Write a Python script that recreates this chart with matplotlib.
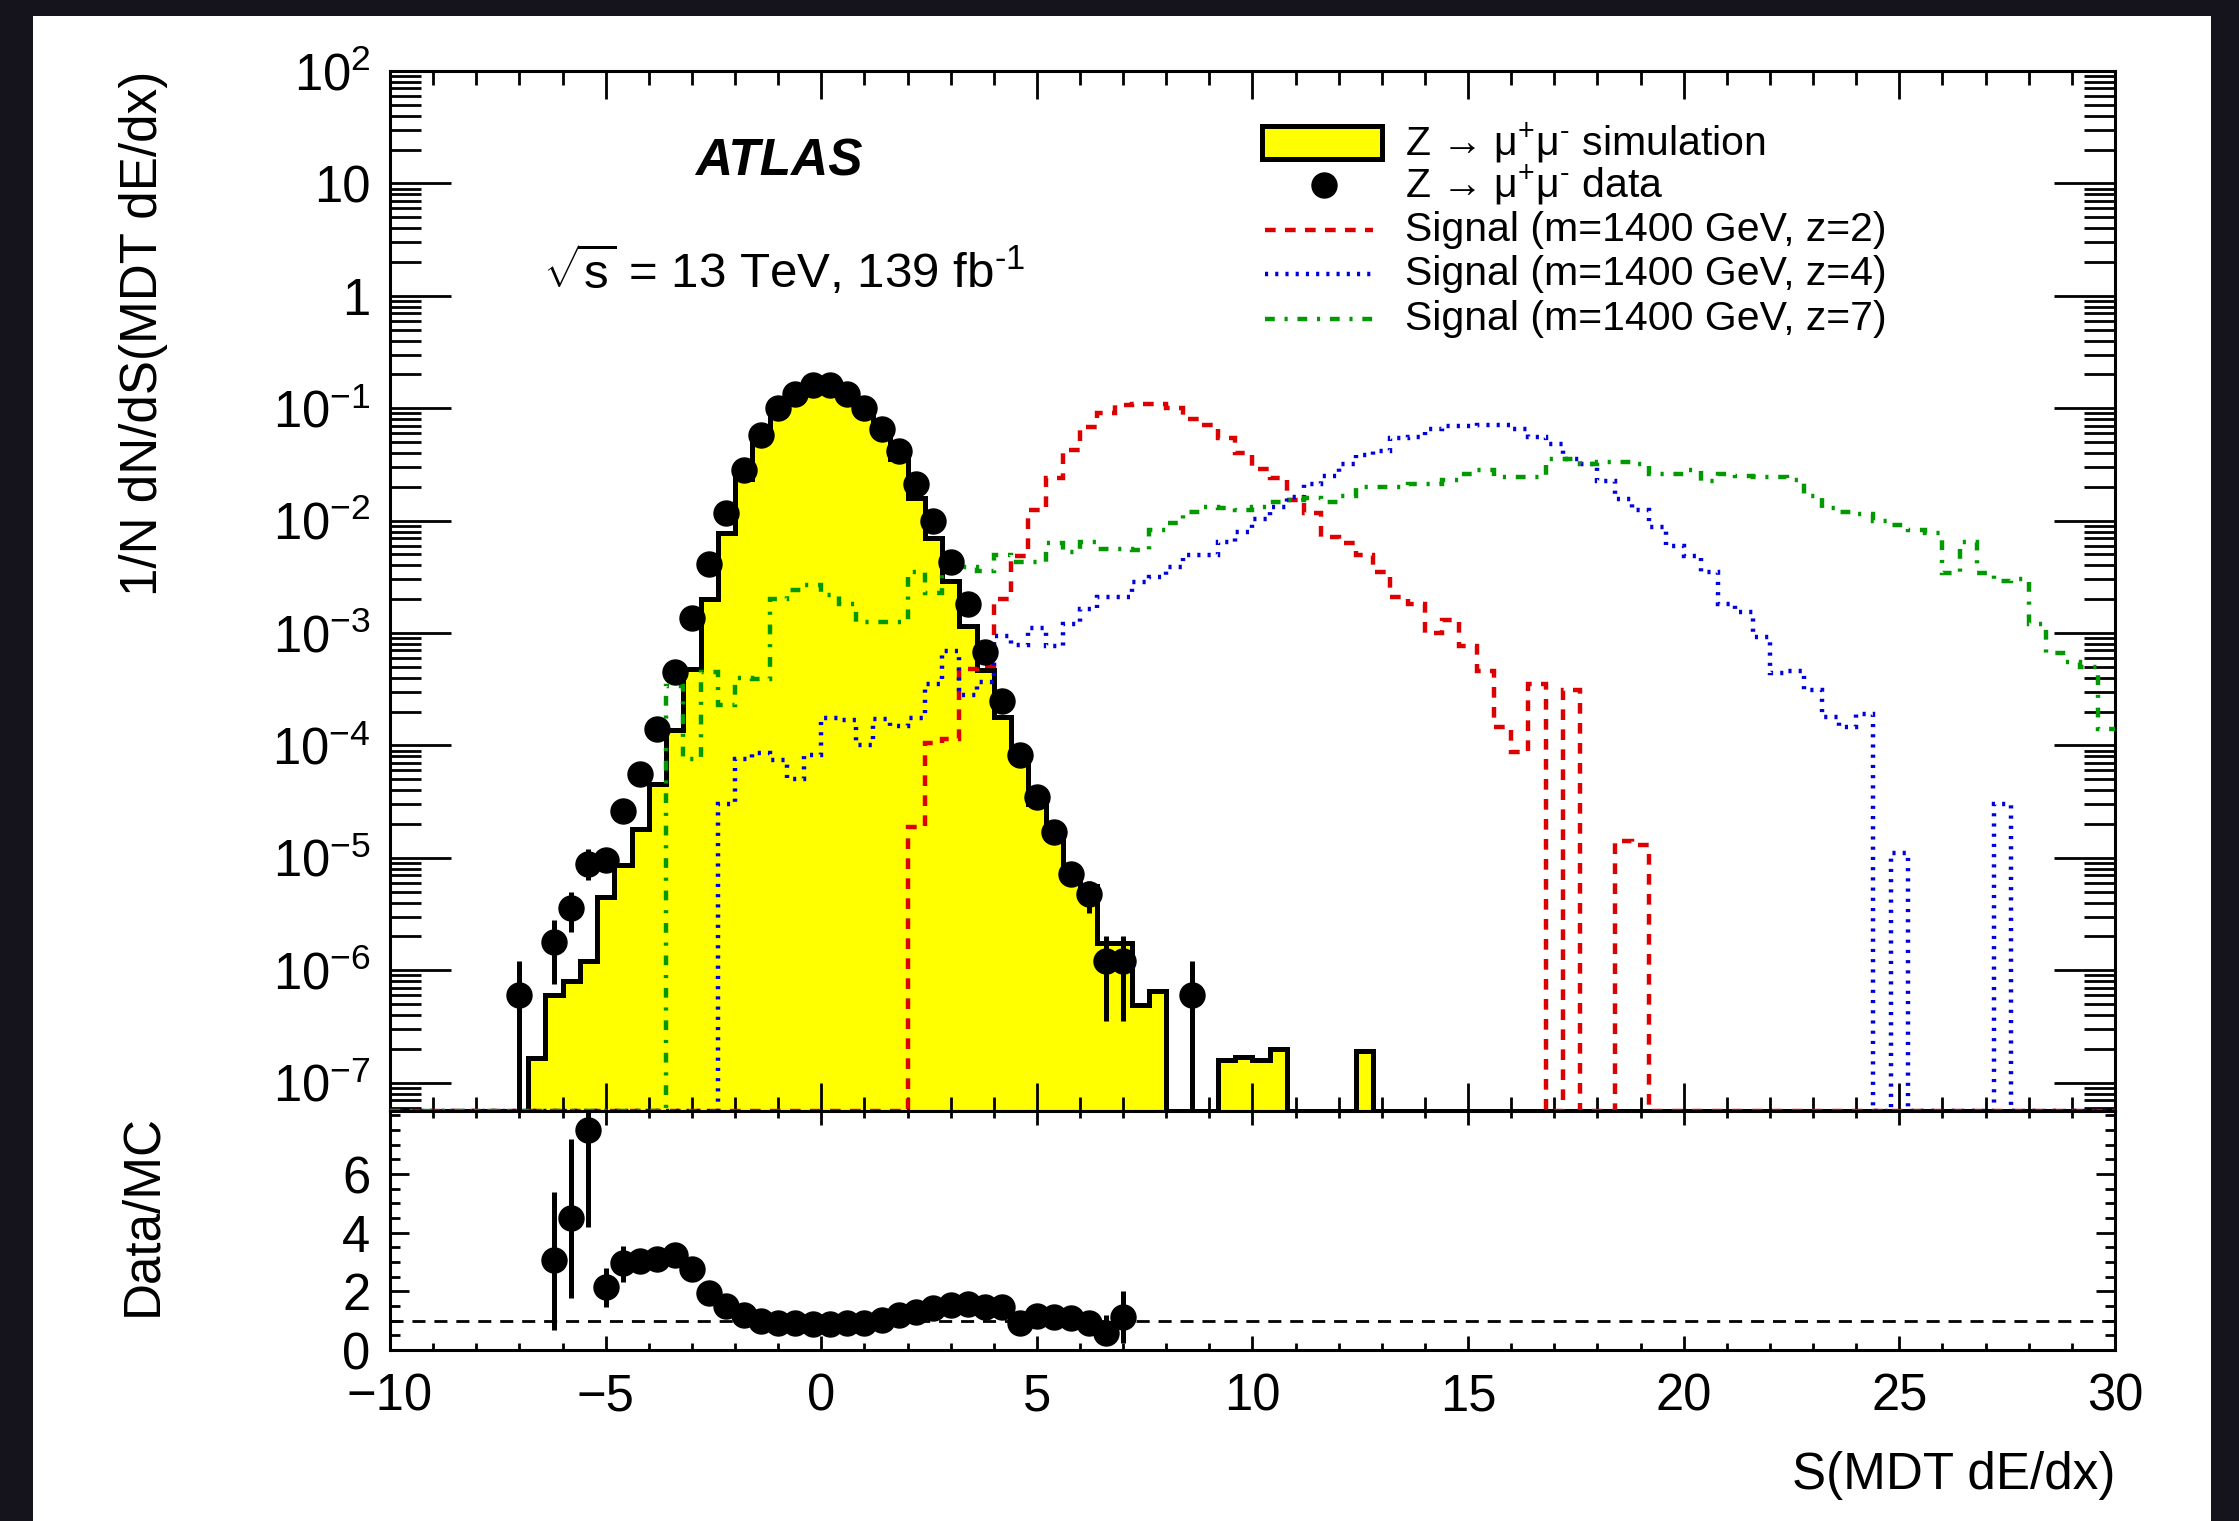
import numpy as np
import matplotlib
matplotlib.use("Agg")
from matplotlib import pyplot as plt
from matplotlib.patches import Rectangle
from matplotlib.ticker import MultipleLocator, LogLocator, FixedLocator, FixedFormatter, NullFormatter

plt.rcParams['font.family'] = ['Liberation Sans', 'DejaVu Sans']
plt.rcParams['mathtext.fontset'] = 'custom'
plt.rcParams['mathtext.rm'] = 'Liberation Sans'
plt.rcParams['mathtext.it'] = 'Liberation Sans:italic'
plt.rcParams['mathtext.bf'] = 'Liberation Sans:bold'

# 100 bins of width 0.4 from -10 to 30, every row below holds 10 bins (4 units of S)
edges = np.linspace(-10, 30, 101)
centres = 0.5 * (edges[:-1] + edges[1:])

mc_sim = [
    0, 0, 0, 0, 0, 0, 0, 0, 1.65e-7, 6.0e-7,
    8.1e-7, 1.2e-6, 4.5e-6, 8.7e-6, 1.8e-5, 4.5e-5, 1.38e-4, 4.8e-4, 2.0e-3, 7.8e-3,
    2.35e-2, 5.7e-2, 0.105, 0.145, 0.175, 0.175, 0.145, 0.105, 0.064, 0.035,
    1.6e-2, 7.0e-3, 2.9e-3, 1.15e-3, 4.7e-4, 1.8e-4, 8.9e-5, 3.0e-5, 1.5e-5, 6.7e-6,
    5.6e-6, 1.75e-6, 1.75e-6, 4.9e-7, 6.6e-7, 0, 0, 0, 1.6e-7, 1.7e-7,
    1.6e-7, 2.0e-7, 0, 0, 0, 0, 1.9e-7, 0, 0, 0,
    0, 0, 0, 0, 0, 0, 0, 0, 0, 0,
    0, 0, 0, 0, 0, 0, 0, 0, 0, 0,
    0, 0, 0, 0, 0, 0, 0, 0, 0, 0,
    0, 0, 0, 0, 0, 0, 0, 0, 0, 0,
]

data = [
    0, 0, 0, 0, 0, 0, 0, 6.0e-7, 0, 1.8e-6,
    3.6e-6, 8.9e-6, 9.5e-6, 2.6e-5, 5.6e-5, 1.4e-4, 4.5e-4, 1.35e-3, 4.1e-3, 1.17e-2,
    2.8e-2, 5.75e-2, 0.1, 0.135, 0.162, 0.162, 0.135, 0.1, 0.066, 0.042,
    2.1e-2, 9.9e-3, 4.3e-3, 1.8e-3, 6.8e-4, 2.5e-4, 8.3e-5, 3.5e-5, 1.7e-5, 7.2e-6,
    4.8e-6, 1.2e-6, 1.2e-6, 0, 0, 0, 6.0e-7, 0, 0, 0,
    0, 0, 0, 0, 0, 0, 0, 0, 0, 0,
    0, 0, 0, 0, 0, 0, 0, 0, 0, 0,
    0, 0, 0, 0, 0, 0, 0, 0, 0, 0,
    0, 0, 0, 0, 0, 0, 0, 0, 0, 0,
    0, 0, 0, 0, 0, 0, 0, 0, 0, 0,
]

sig_z2 = [
    0, 0, 0, 0, 0, 0, 0, 0, 0, 0,
    0, 0, 0, 0, 0, 0, 0, 0, 0, 0,
    0, 0, 0, 0, 0, 0, 0, 0, 0, 0,
    1.9e-5, 1.05e-4, 1.15e-4, 4.8e-4, 5.1e-4, 2.0e-3, 4.8e-3, 1.24e-2, 2.4e-2, 4.25e-2,
    6.85e-2, 9.0e-2, 0.107, 0.110, 0.110, 0.100, 0.081, 0.071, 0.054, 0.040,
    0.029, 0.024, 0.0152, 0.0116, 7.2e-3, 6.3e-3, 4.9e-3, 3.5e-3, 2.1e-3, 1.8e-3,
    1.0e-3, 1.3e-3, 7.7e-4, 4.6e-4, 1.47e-4, 8.8e-5, 3.5e-4, 0, 3.1e-4, 0,
    0, 1.4e-5, 1.3e-5, 0, 0, 0, 0, 0, 0, 0,
    0, 0, 0, 0, 0, 0, 0, 0, 0, 0,
    0, 0, 0, 0, 0, 0, 0, 0, 0, 0,
]

sig_z4 = [
    0, 0, 0, 0, 0, 0, 0, 0, 0, 0,
    0, 0, 0, 0, 0, 0, 0, 0, 0, 3.0e-5,
    7.5e-5, 8.6e-5, 7.4e-5, 5.0e-5, 8.3e-5, 1.74e-4, 1.7e-4, 1.0e-4, 1.72e-4, 1.5e-4,
    1.75e-4, 3.5e-4, 6.9e-4, 2.8e-4, 3.7e-4, 9.5e-4, 7.9e-4, 1.1e-3, 7.6e-4, 1.2e-3,
    1.65e-3, 2.1e-3, 2.1e-3, 2.85e-3, 3.15e-3, 3.9e-3, 4.9e-3, 4.9e-3, 6.5e-3, 8.0e-3,
    1.03e-2, 1.33e-2, 1.62e-2, 2.1e-2, 2.5e-2, 3.2e-2, 3.8e-2, 4.2e-2, 5.4e-2, 5.6e-2,
    6.6e-2, 7.0e-2, 7.0e-2, 7.1e-2, 7.1e-2, 6.5e-2, 5.6e-2, 4.8e-2, 3.5e-2, 3.2e-2,
    2.25e-2, 1.55e-2, 1.25e-2, 8.8e-3, 5.9e-3, 4.8e-3, 3.5e-3, 1.8e-3, 1.55e-3, 9.2e-4,
    4.4e-4, 4.6e-4, 3.1e-4, 1.8e-4, 1.47e-4, 1.9e-4, 0, 1.1e-5, 0, 0,
    0, 0, 0, 3.0e-5, 0, 0, 0, 0, 0, 0,
]

sig_z7 = [
    0, 0, 0, 0, 0, 0, 0, 0, 0, 0,
    0, 0, 0, 0, 0, 0, 3.4e-4, 7.5e-5, 4.5e-4, 2.3e-4,
    4.0e-4, 3.9e-4, 2.0e-3, 2.4e-3, 2.7e-3, 2.2e-3, 1.8e-3, 1.26e-3, 1.26e-3, 1.26e-3,
    3.5e-3, 2.25e-3, 3.6e-3, 3.9e-3, 3.6e-3, 4.9e-3, 4.3e-3, 4.3e-3, 6.3e-3, 5.3e-3,
    6.5e-3, 5.6e-3, 5.6e-3, 5.5e-3, 8.3e-3, 9.6e-3, 1.2e-2, 1.33e-2, 1.3e-2, 1.25e-2,
    1.33e-2, 1.47e-2, 1.52e-2, 1.58e-2, 1.47e-2, 1.66e-2, 2.0e-2, 2.0e-2, 2.0e-2, 2.1e-2,
    2.1e-2, 2.3e-2, 2.6e-2, 2.8e-2, 2.45e-2, 2.45e-2, 2.45e-2, 3.5e-2, 3.5e-2, 3.2e-2,
    3.3e-2, 3.3e-2, 3.2e-2, 2.6e-2, 2.6e-2, 2.8e-2, 2.25e-2, 2.6e-2, 2.5e-2, 2.45e-2,
    2.45e-2, 2.3e-2, 1.65e-2, 1.3e-2, 1.2e-2, 1.15e-2, 1.0e-2, 9.2e-3, 8.2e-3, 7.8e-3,
    3.4e-3, 6.5e-3, 3.4e-3, 2.9e-3, 3.0e-3, 1.2e-3, 6.6e-4, 5.5e-4, 5.0e-4, 1.4e-4,
]

ratio = [
    0, 0, 0, 0, 0, 0, 0, 0, 0, 3.07,
    4.49, 7.5, 2.14, 2.96, 3.05, 3.09, 3.24, 2.75, 1.96, 1.50,
    1.19, 1.00, 0.93, 0.91, 0.89, 0.89, 0.91, 0.93, 1.02, 1.19,
    1.31, 1.42, 1.54, 1.57, 1.48, 1.48, 0.93, 1.16, 1.14, 1.08,
    0.91, 0.57, 1.14, 0, 0, 0, 0, 0, 0, 0,
    0, 0, 0, 0, 0, 0, 0, 0, 0, 0,
    0, 0, 0, 0, 0, 0, 0, 0, 0, 0,
    0, 0, 0, 0, 0, 0, 0, 0, 0, 0,
    0, 0, 0, 0, 0, 0, 0, 0, 0, 0,
    0, 0, 0, 0, 0, 0, 0, 0, 0, 0,
]

# visible error bars (bin centre, lower end, upper end)
err_x = [-7.0, -6.2, -5.8, -5.4, 6.2, 6.6, 7.0, 8.6]
err_lo = [0, 7.6e-7, 2.2e-6, 6.3e-6, 3.2e-6, 3.5e-7, 3.5e-7, 0]
err_hi = [1.2e-6, 2.8e-6, 5.0e-6, 1.2e-5, 6.2e-6, 2.0e-6, 2.0e-6, 1.2e-6]

rerr_x = [-6.2, -5.8, -5.4, -5.0, -4.6, 6.6, 7.0]
rerr_lo = [0.68, 1.76, 4.2, 1.48, 2.33, 0.2, 0.23]
rerr_hi = [5.4, 7.2, 9.0, 2.8, 3.53, 1.2, 2.0]

legend_labels = [r"Z → μ$^{+}$μ$^{\text{-}}$ simulation",
                 r"Z → μ$^{+}$μ$^{\text{-}}$ data",
                 "Signal (m=1400 GeV, z=2)", "Signal (m=1400 GeV, z=4)",
                 "Signal (m=1400 GeV, z=7)"]

ymin, ymax = 5.6e-8, 100.0
red, blue, green = '#dd0000', '#0000dd', '#009900'
sig_styles = [(sig_z2, red, (0, (2.4, 2.1))),
              (sig_z4, blue, (0, (0.7, 1.6))),
              (sig_z7, green, (0, (2.2, 2.2, 0.7, 2.2)))]


def on_floor(v):
    # empty bins sit on the lower edge of the log axis, like ROOT draws them
    v = np.asarray(v, float)
    return np.where(v > 0, v, ymin)


fig = plt.figure(figsize=(22.39, 15.21), dpi=100)
fig.patch.set_facecolor('#15131c')
fig.add_artist(Rectangle((0.0147, 0.0), 0.9728, 0.9895, transform=fig.transFigure,
                         facecolor='white', edgecolor='none', zorder=-10))

ax = fig.add_axes([0.1742, 0.2696, 0.7704, 0.6837])
rax = fig.add_axes([0.1742, 0.1124, 0.7704, 0.1572], sharex=ax)

# main panel
ax.stairs(on_floor(mc_sim), edges, baseline=ymin, fill=True, facecolor='#ffff00',
          edgecolor='none', zorder=1)
ax.stairs(on_floor(mc_sim), edges, baseline=ymin, color='k', lw=3.6, zorder=2)
for vals, col, ls in sig_styles:
    ax.stairs(on_floor(vals), edges, baseline=None, color=col, lw=3.2, ls=ls, zorder=3)

d = np.asarray(data)
ax.vlines(err_x, np.maximum(err_lo, ymin), err_hi, color='k', lw=3.6, zorder=4)
ax.plot(centres[d > 0], d[d > 0], 'o', color='k', ms=18, zorder=5)

ax.set_yscale('log')
ax.set_ylim(ymin, ymax)
ax.set_xlim(-10, 30)

decades = [10.0 ** k for k in range(-7, 3)]
dec_labels = ['$10^{-7}$', '$10^{-6}$', '$10^{-5}$', '$10^{-4}$', '$10^{-3}$',
              '$10^{-2}$', '$10^{-1}$', '1', '10', '$10^{2}$']
ax.yaxis.set_major_locator(FixedLocator(decades))
ax.yaxis.set_major_formatter(FixedFormatter(dec_labels))
ax.yaxis.set_minor_locator(LogLocator(base=10, subs=np.arange(2, 10), numticks=30))
ax.yaxis.set_minor_formatter(NullFormatter())
ax.xaxis.set_major_locator(MultipleLocator(5))
ax.xaxis.set_minor_locator(MultipleLocator(1))

ax.tick_params(which='both', direction='in', top=True, right=True, width=2,
               labelbottom=False, labelsize=36.5)
ax.tick_params(axis='x', which='major', length=20)
ax.tick_params(axis='x', which='minor', length=10)
ax.tick_params(axis='y', which='major', length=44, pad=14)
ax.tick_params(axis='y', which='minor', length=22)
for s in ax.spines.values():
    s.set_linewidth(2.2)

ax.text(0.1768, 0.913, 'ATLAS', transform=ax.transAxes, fontsize=37,
        fontweight='bold', fontstyle='italic', va='center', ha='left')
ax.text(0.0887, 0.808, r'$\sqrt{\mathrm{s}}$ = 13 TeV, 139 fb$^{\text{-1}}$',
        transform=ax.transAxes, fontsize=35.5, va='center', ha='left')

# legend, drawn by hand to follow the ROOT layout
rows = [0.931, 0.890, 0.847, 0.805, 0.762]
ax.add_patch(Rectangle((0.5055, rows[0] - 0.016), 0.0695, 0.032, transform=ax.transAxes,
                       facecolor='#ffff00', edgecolor='k', lw=3.6, zorder=6))
ax.plot([0.5414], [rows[1]], 'o', color='k', ms=18, transform=ax.transAxes, zorder=6)
for (vals, col, ls), y in zip(sig_styles, rows[2:]):
    ax.plot([0.507, 0.570], [y, y], color=col, lw=3.2, ls=ls, transform=ax.transAxes,
            zorder=6)
for lab, y in zip(legend_labels, rows):
    ax.text(0.5884, y, lab, transform=ax.transAxes, fontsize=29.5, va='center', ha='left')

# ratio panel
r = np.asarray(ratio)
rax.axhline(1.0, color='k', lw=2.0, ls=(0, (4.7, 3.2)), zorder=1)
rax.vlines(rerr_x, rerr_lo, rerr_hi, color='k', lw=3.6, zorder=2)
rax.plot(centres[r > 0], r[r > 0], 'o', color='k', ms=18, zorder=3)
rax.set_ylim(0, 8.15)
rax.yaxis.set_major_locator(FixedLocator([0, 2, 4, 6]))
rax.yaxis.set_minor_locator(MultipleLocator(0.5))
rax.tick_params(which='both', direction='in', top=True, right=True, width=2,
                labelsize=36.5)
rax.tick_params(axis='x', which='major', length=10, pad=16)
rax.tick_params(axis='x', which='minor', length=5)
rax.tick_params(axis='y', which='major', length=14, pad=14)
rax.tick_params(axis='y', which='minor', length=7)
for s in rax.spines.values():
    s.set_linewidth(2.2)

fig.text(0.0639, 0.9533, '1/N dN/dS(MDT dE/dx)', rotation=90, fontsize=36.8,
         ha='center', va='top')
fig.text(0.0639, 0.2676, 'Data/MC', rotation=90, fontsize=36.8, ha='center', va='top')
fig.text(0.9446, 0.0302, 'S(MDT dE/dx)', fontsize=36.8, ha='right', va='center')

fig.savefig('out.png', dpi=100, facecolor=fig.get_facecolor())
